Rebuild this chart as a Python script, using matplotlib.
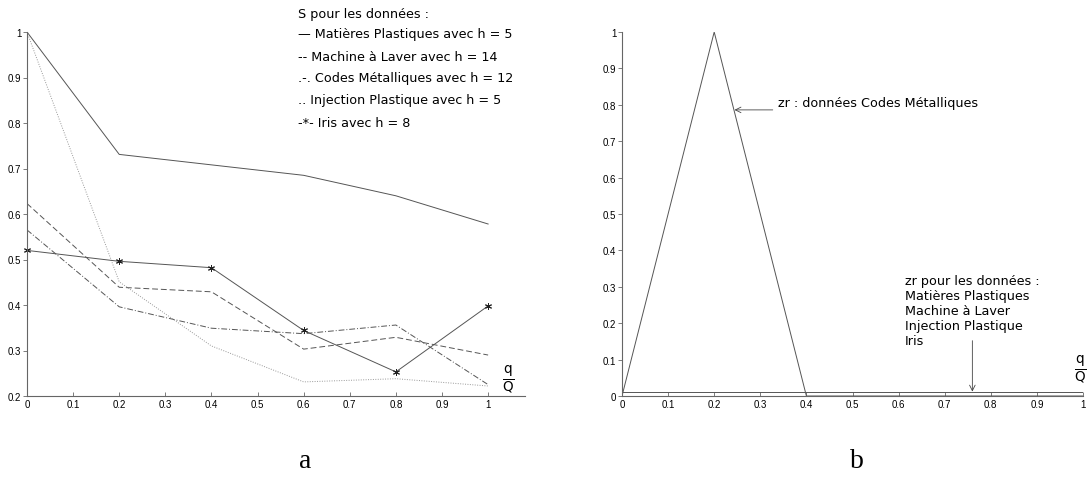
import matplotlib
matplotlib.use("Agg")
import matplotlib.pyplot as plt

# q/Q positions
q = [0, 0.2, 0.4, 0.6, 0.8, 1.0]

# S values, left panel
s_matieres = [1.0, 0.731, 0.708, 0.685, 0.640, 0.578]
s_machine = [0.623, 0.439, 0.429, 0.303, 0.329, 0.290]
s_codes = [0.565, 0.396, 0.349, 0.337, 0.356, 0.225]
s_injection = [1.0, 0.451, 0.310, 0.231, 0.238, 0.222]
s_iris = [0.520, 0.496, 0.482, 0.344, 0.253, 0.398]

# zr values, right panel
zr_codes = [0, 1.0, 0, 0, 0, 0]
zr_others = [0.012, 0.012, 0.012, 0.012, 0.012, 0.012]

legend_lines = [
    "S pour les données :",
    "— Matières Plastiques avec h = 5",
    "-- Machine à Laver avec h = 14",
    ".-. Codes Métalliques avec h = 12",
    ".. Injection Plastique avec h = 5",
    "-*- Iris avec h = 8",
]
others_label = "zr pour les données :\nMatières Plastiques\nMachine à Laver\nInjection Plastique\nIris"

plt.rcParams['font.family'] = ['DejaVu Sans']
plt.rcParams['mathtext.fontset'] = 'custom'
plt.rcParams['mathtext.rm'] = 'DejaVu Sans'

W, H = 1090, 481
fig = plt.figure(figsize=(W / 100, H / 100), dpi=100)

ax1 = fig.add_axes([27 / W, 84 / H, 498 / W, 364 / H])
ax2 = fig.add_axes([622 / W, 84 / H, 461 / W, 364 / H])

line_col = "#555555"
lw = 0.7
fs = 9.2

ax1.plot(q, s_matieres, color=line_col, lw=lw, linestyle='-')
ax1.plot(q, s_machine, color=line_col, lw=lw, linestyle=(0, (6, 3)))
ax1.plot(q, s_codes, color=line_col, lw=lw, linestyle=(0, (6, 2, 1, 2)))
ax1.plot(q, s_injection, color="#999999", lw=lw, linestyle=(0, (1, 1.5)))
ax1.plot(q, s_iris, color=line_col, lw=lw, linestyle='-', marker=(6, 2, 0),
         markersize=5, markeredgecolor='#222222', markeredgewidth=0.7,
         clip_on=False)

ax2.plot(q, zr_codes, color=line_col, lw=lw)
ax2.plot(q, zr_others, color=line_col, lw=lw)

ax1.set_xlim(0, 1.08)
ax1.set_ylim(0.2, 1.0)
ax2.set_xlim(0, 1.0)
ax2.set_ylim(0, 1.0)

xt = [i / 10 for i in range(11)]
xl = ['0', '0.1', '0.2', '0.3', '0.4', '0.5', '0.6', '0.7', '0.8', '0.9', '1']
for ax in (ax1, ax2):
    for side in ('top', 'right'):
        ax.spines[side].set_visible(False)
    for side in ('left', 'bottom'):
        ax.spines[side].set_color('#666666')
        ax.spines[side].set_linewidth(0.8)
    ax.set_xticks(xt)
    ax.set_xticklabels(xl)
    ax.tick_params(axis='x', direction='in', length=3, width=0.6, color='#666666',
                   labelsize=7, pad=2)
    ax.tick_params(axis='y', direction='out', length=3, width=0.6, color='#666666',
                   labelsize=7, pad=1)

ax1.set_yticks(xt[2:])
ax1.set_yticklabels(xl[2:])
ax2.set_yticks(xt)
ax2.set_yticklabels(xl)
for ax in (ax1, ax2):
    for lab in ax.get_xticklabels() + ax.get_yticklabels():
        lab.set_family('Liberation Sans')

# legend block written as plain text
ys = [1.040, 0.996, 0.947, 0.899, 0.852, 0.801]
for txt, yy in zip(legend_lines, ys):
    ax1.text(0.587, yy, txt, fontsize=fs, va='center', ha='left', clip_on=False)

ax1.text(1.045, 0.24, r'$\frac{\mathrm{q}}{\mathrm{Q}}$', fontsize=14,
         ha='center', va='center')
ax2.text(0.995, 0.077, r'$\frac{\mathrm{q}}{\mathrm{Q}}$', fontsize=14,
         ha='center', va='center', clip_on=False)

ax2.text(0.338, 0.805, "zr : données Codes Métalliques", fontsize=fs,
         va='center', ha='left')
ax2.annotate("", xy=(0.244, 0.786), xytext=(0.327, 0.786),
             arrowprops=dict(arrowstyle='->', color='#444444', lw=0.6,
                             shrinkA=0, shrinkB=0))
ax2.text(0.613, 0.335, others_label, fontsize=fs, va='top', ha='left',
         linespacing=1.2)
ax2.annotate("", xy=(0.76, 0.012), xytext=(0.76, 0.152),
             arrowprops=dict(arrowstyle='->', color='#444444', lw=0.6,
                             shrinkA=0, shrinkB=0))

fig.text(0.28, 0.04, "a", fontsize=20, family='Liberation Serif', ha='center', va='center')
fig.text(0.786, 0.04, "b", fontsize=20, family='Liberation Serif', ha='center', va='center')

fig.savefig("out.png", dpi=100, facecolor='white')
